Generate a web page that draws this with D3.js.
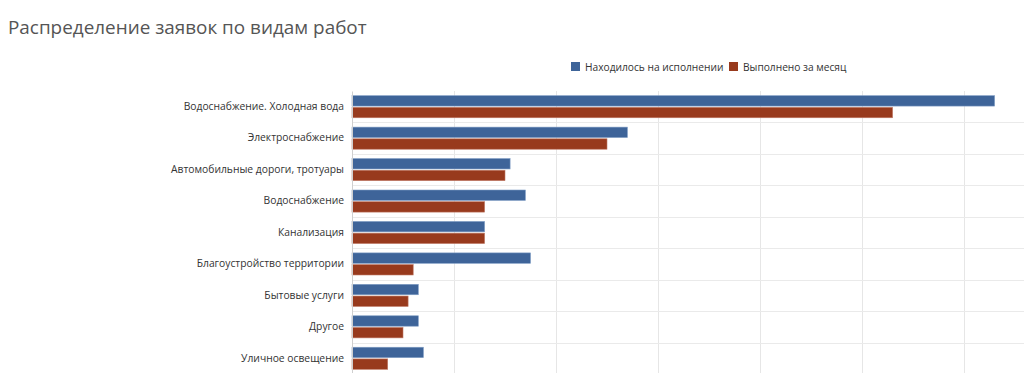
<!DOCTYPE html>
<html><head><meta charset="utf-8">
<script src="https://cdn.jsdelivr.net/npm/d3@7"></script>
<style>
html,body{margin:0;padding:0;background:#fff;overflow:hidden}
svg{display:block;font-family:"Open Sans","Noto Sans",sans-serif}
</style></head>
<body>
<script>
const title = "Распределение заявок по видам работ";
const categories = ["Водоснабжение. Холодная вода","Электроснабжение","Автомобильные дороги, тротуары","Водоснабжение","Канализация","Благоустройство территории","Бытовые услуги","Другое","Уличное освещение"];
const seriesNames = ["Находилось на исполнении","Выполнено за месяц"];
const inProgress = [126,54,31,34,26,35,13,13,14];
const completed  = [106,50,30,26,26,12,11,10,7];
const xTicks = [0,20,40,60,80,100,120,140];
const colors = ["#3e6499","#983a1d"];

const W=1024,H=373;
const svg=d3.select("body").append("svg").attr("width",W).attr("height",H);
const m={left:352,right:-42,top:91,bottom:-1};
const x=d3.scaleLinear().domain([0,140]).range([m.left,W-m.right]);
const y=d3.scaleBand().domain(categories).range([m.top,H-m.bottom]).padding(0);
const ys=d3.scaleBand().domain(seriesNames).range([0,y.bandwidth()]).paddingInner(0.11).paddingOuter(0.4);

svg.append("text").attr("x",8).attr("y",34).attr("font-size",18.9).attr("fill","#555").text(title);

// grid
const g=svg.append("g");
g.selectAll("line.v").data(xTicks.slice(1)).join("line")
 .attr("x1",d=>Math.round(x(d))+0.5).attr("x2",d=>Math.round(x(d))+0.5)
 .attr("y1",m.top).attr("y2",H-m.bottom).attr("stroke","#e6e6e6");
g.selectAll("line.h").data(categories.slice(1)).join("line")
 .attr("x1",m.left).attr("x2",W).attr("y1",d=>Math.round(y(d))+0.5).attr("y2",d=>Math.round(y(d))+0.5).attr("stroke","#eaeaea");

const data=[inProgress,completed];
seriesNames.forEach((s,i)=>{
  svg.append("g").selectAll("rect").data(categories).join("rect")
   .attr("x",x(0)).attr("y",d=>y(d)+ys(s))
   .attr("width",(d,j)=>x(data[i][j])-x(0)).attr("height",ys.bandwidth())
   .attr("fill",colors[i]).attr("stroke",i===0?"#7e9cc4":"#c07a66").attr("stroke-width",0.6);
});

// axis
const ax=svg.append("g").attr("transform",`translate(${m.left},0)`)
 .call(d3.axisLeft(y).tickSize(0).tickPadding(8));
ax.select(".domain").attr("stroke","#cfcfcf");
ax.selectAll("text").attr("font-size",10.3).attr("fill","#333").attr("font-family","'Open Sans',sans-serif");

// legend
const lg=svg.append("g").attr("transform","translate(571,62)");
const lx=[0,158];
seriesNames.forEach((s,i)=>{
  lg.append("rect").attr("x",lx[i]).attr("y",0).attr("width",9).attr("height",9).attr("fill",colors[i]);
  lg.append("text").attr("x",lx[i]+14).attr("y",8.5).attr("font-size",10.2).attr("fill","#333").text(s);
});
</script>
</body></html>
